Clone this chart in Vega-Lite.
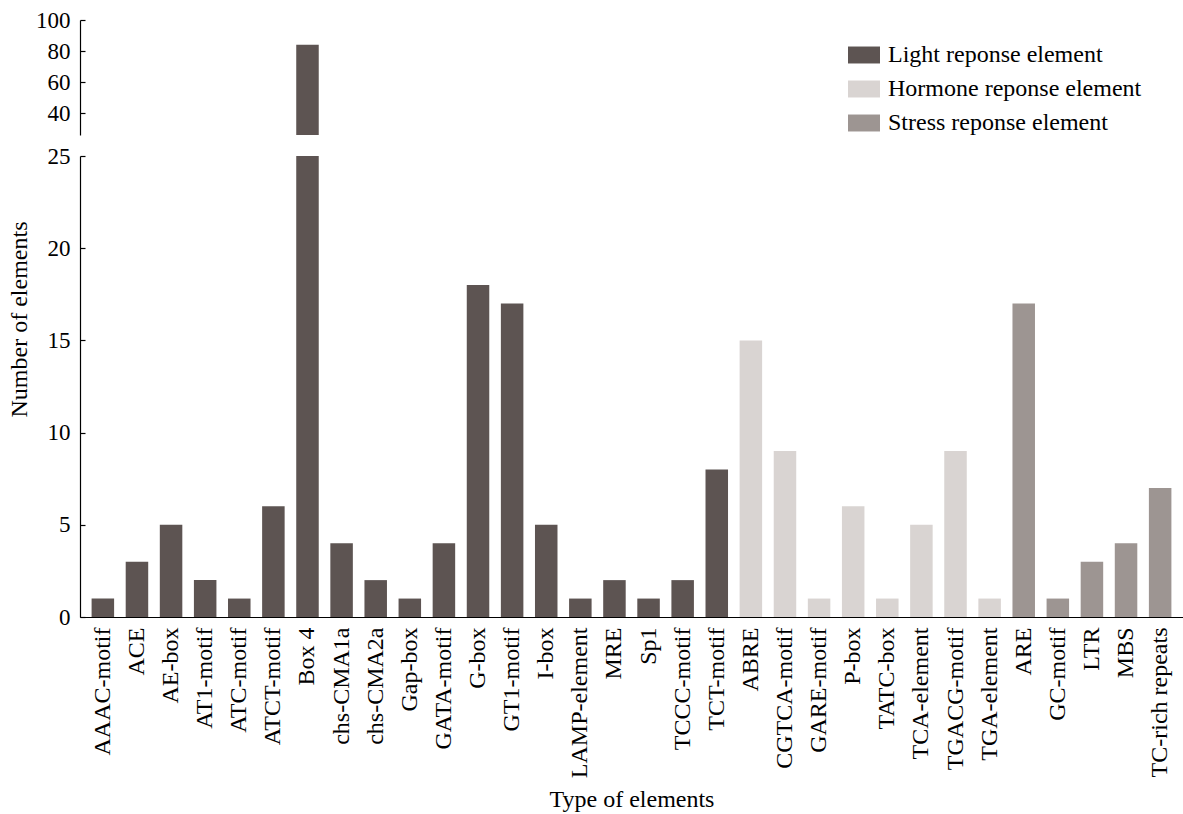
{
  "$schema": "https://vega.github.io/schema/vega-lite/v6.json",
  "padding": {"left": 7, "top": 9, "right": 0, "bottom": 2},
  "background": "white",
  "config": {
    "view": {"stroke": null},
    "font": "Liberation Serif",
    "axis": {
      "domainColor": "#000000",
      "domainWidth": 1.2,
      "tickColor": "#000000",
      "tickSize": -5,
      "tickWidth": 1.2,
      "labelPadding": 15,
      "labelFont": "Liberation Serif",
      "labelFontSize": 23,
      "labelColor": "#000000",
      "titleFont": "Liberation Serif",
      "titleFontSize": 24,
      "titleFontWeight": "normal",
      "titleColor": "#000000",
      "grid": false
    },
    "legend": {
      "labelFont": "Liberation Serif",
      "labelFontSize": 24,
      "labelColor": "#000000",
      "labelLimit": 0
    }
  },
  "data": {
    "values": [
      {"element": "AAAC-motif", "count": 1, "type": "Light reponse element"},
      {"element": "ACE", "count": 3, "type": "Light reponse element"},
      {"element": "AE-box", "count": 5, "type": "Light reponse element"},
      {"element": "AT1-motif", "count": 2, "type": "Light reponse element"},
      {"element": "ATC-motif", "count": 1, "type": "Light reponse element"},
      {"element": "ATCT-motif", "count": 6, "type": "Light reponse element"},
      {"element": "Box 4", "count": 84, "type": "Light reponse element"},
      {"element": "chs-CMA1a", "count": 4, "type": "Light reponse element"},
      {"element": "chs-CMA2a", "count": 2, "type": "Light reponse element"},
      {"element": "Gap-box", "count": 1, "type": "Light reponse element"},
      {"element": "GATA-motif", "count": 4, "type": "Light reponse element"},
      {"element": "G-box", "count": 18, "type": "Light reponse element"},
      {"element": "GT1-motif", "count": 17, "type": "Light reponse element"},
      {"element": "I-box", "count": 5, "type": "Light reponse element"},
      {"element": "LAMP-element", "count": 1, "type": "Light reponse element"},
      {"element": "MRE", "count": 2, "type": "Light reponse element"},
      {"element": "Sp1", "count": 1, "type": "Light reponse element"},
      {"element": "TCCC-motif", "count": 2, "type": "Light reponse element"},
      {"element": "TCT-motif", "count": 8, "type": "Light reponse element"},
      {"element": "ABRE", "count": 15, "type": "Hormone reponse element"},
      {"element": "CGTCA-motif", "count": 9, "type": "Hormone reponse element"},
      {"element": "GARE-motif", "count": 1, "type": "Hormone reponse element"},
      {"element": "P-box", "count": 6, "type": "Hormone reponse element"},
      {"element": "TATC-box", "count": 1, "type": "Hormone reponse element"},
      {"element": "TCA-element", "count": 5, "type": "Hormone reponse element"},
      {"element": "TGACG-motif", "count": 9, "type": "Hormone reponse element"},
      {"element": "TGA-element", "count": 1, "type": "Hormone reponse element"},
      {"element": "ARE", "count": 17, "type": "Stress reponse element"},
      {"element": "GC-motif", "count": 1, "type": "Stress reponse element"},
      {"element": "LTR", "count": 3, "type": "Stress reponse element"},
      {"element": "MBS", "count": 4, "type": "Stress reponse element"},
      {"element": "TC-rich repeats", "count": 7, "type": "Stress reponse element"}
    ]
  },
  "spacing": 21,
  "bounds": "flush",
  "resolve": {"scale": {"color": "independent", "x": "independent", "y": "independent"}, "legend": {"color": "independent"}},
  "vconcat": [
    {
      "width": 1103,
      "height": 115,
      "transform": [{"filter": "datum.count > 26"}],
      "mark": {"type": "bar", "clip": true},
      "encoding": {
        "x": {
          "field": "element", "type": "nominal", "sort": null,
          "scale": {"domain": ["AAAC-motif","ACE","AE-box","AT1-motif","ATC-motif","ATCT-motif","Box 4","chs-CMA1a","chs-CMA2a","Gap-box","GATA-motif","G-box","GT1-motif","I-box","LAMP-element","MRE","Sp1","TCCC-motif","TCT-motif","ABRE","CGTCA-motif","GARE-motif","P-box","TATC-box","TCA-element","TGACG-motif","TGA-element","ARE","GC-motif","LTR","MBS","TC-rich repeats"], "paddingInner": 0.34, "paddingOuter": 0.34},
          "axis": null
        },
        "y": {
          "field": "count", "type": "quantitative",
          "scale": {"domain": [26, 100], "nice": false, "zero": false},
          "axis": {"values": [40, 60, 80, 100], "title": null}
        },
        "color": {
          "field": "type", "type": "nominal",
          "scale": {"domain": ["Light reponse element", "Hormone reponse element", "Stress reponse element"], "range": ["#5d5452", "#d9d4d2", "#9d9592"]},
          "legend": {
            "title": null,
            "orient": "none",
            "legendX": 768,
            "legendY": 19,
            "padding": 0,
            "symbolType": "M-1,-0.53H1V0.53H-1Z",
            "symbolSize": 1024,
            "symbolStrokeWidth": 0,
            "symbolOpacity": 1,
            "labelOffset": 8,
            "rowPadding": 6
          }
        }
      }
    },
    {
      "width": 1103,
      "height": 461,
      "mark": {"type": "bar", "clip": true},
      "encoding": {
        "x": {
          "field": "element", "type": "nominal", "sort": null,
          "scale": {"domain": ["AAAC-motif","ACE","AE-box","AT1-motif","ATC-motif","ATCT-motif","Box 4","chs-CMA1a","chs-CMA2a","Gap-box","GATA-motif","G-box","GT1-motif","I-box","LAMP-element","MRE","Sp1","TCCC-motif","TCT-motif","ABRE","CGTCA-motif","GARE-motif","P-box","TATC-box","TCA-element","TGACG-motif","TGA-element","ARE","GC-motif","LTR","MBS","TC-rich repeats"], "paddingInner": 0.34, "paddingOuter": 0.34},
          "axis": {"title": "Type of elements", "labelAngle": -90, "labelFontSize": 24, "titlePadding": 10}
        },
        "y": {
          "field": "count", "type": "quantitative",
          "scale": {"domain": [0, 25], "nice": false},
          "axis": {"values": [0, 5, 10, 15, 20, 25], "title": "Number of elements", "titleY": 163, "titlePadding": 16}
        },
        "color": {
          "field": "type", "type": "nominal",
          "scale": {"domain": ["Light reponse element", "Hormone reponse element", "Stress reponse element"], "range": ["#5d5452", "#d9d4d2", "#9d9592"]},
          "legend": null
        }
      }
    }
  ]
}
